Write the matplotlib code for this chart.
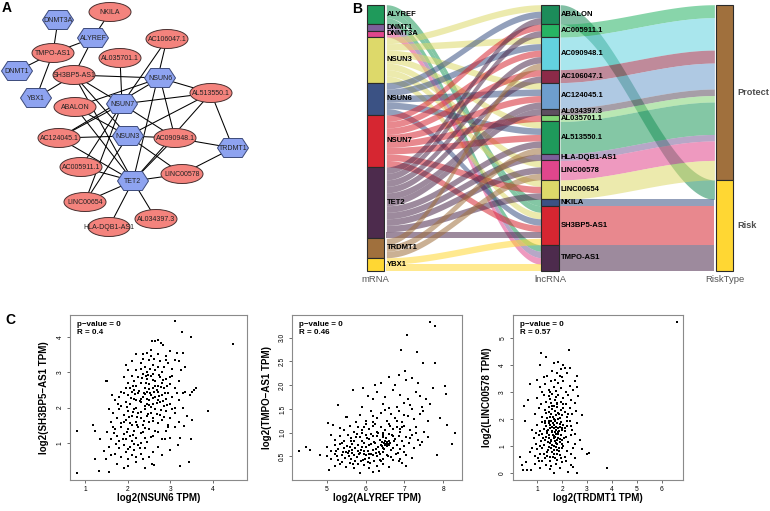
import numpy as np
import matplotlib
matplotlib.use('Agg')
import matplotlib.pyplot as plt
from matplotlib.patches import Ellipse, Polygon, Rectangle

plt.rcParams['font.family'] = ['Liberation Sans', 'DejaVu Sans']

# ---------------- data ----------------
mrna = ['ALYREF', 'DNMT1', 'DNMT3A', 'NSUN3', 'NSUN6', 'NSUN7', 'TET2', 'TRDMT1', 'YBX1']
lncrna = ['ABALON', 'AC005911.1', 'AC090948.1', 'AC106047.1', 'AC124045.1', 'AL034397.3',
          'AL035701.1', 'AL513550.1', 'HLA-DQB1-AS1', 'LINC00578', 'LINC00654', 'NKILA',
          'SH3BP5-AS1', 'TMPO-AS1']
risk_levels = ['Protect', 'Risk']
lnc_risk = ['Risk', 'Protect', 'Protect', 'Protect', 'Protect', 'Protect', 'Protect',
            'Protect', 'Protect', 'Protect', 'Protect', 'Risk', 'Risk', 'Risk']

pairs = {
    'ALYREF': ['NKILA', 'SH3BP5-AS1', 'TMPO-AS1'],
    'DNMT1': ['TMPO-AS1'],
    'DNMT3A': ['TMPO-AS1'],
    'NSUN3': ['ABALON', 'AC090948.1', 'AC124045.1', 'AL513550.1', 'LINC00578', 'LINC00654', 'SH3BP5-AS1'],
    'NSUN6': ['ABALON', 'AC090948.1', 'AC124045.1', 'AL513550.1', 'SH3BP5-AS1'],
    'NSUN7': ['AC005911.1', 'AC090948.1', 'AC106047.1', 'AC124045.1', 'AL035701.1', 'AL513550.1',
              'LINC00654', 'SH3BP5-AS1'],
    'TET2': ['ABALON', 'AC005911.1', 'AC090948.1', 'AC106047.1', 'AC124045.1', 'AL034397.3',
             'AL513550.1', 'HLA-DQB1-AS1', 'LINC00578', 'LINC00654', 'SH3BP5-AS1'],
    'TRDMT1': ['AC090948.1', 'AL513550.1', 'LINC00578'],
    'YBX1': ['SH3BP5-AS1', 'TMPO-AS1'],
}

mrna_colors = ['#1F9A5B', '#7D5F9A', '#E0468C', '#DDD96A', '#3B5284', '#D62631', '#4D2B4D', '#A0703D', '#FFD733']
lnc_colors = ['#1C8C5A', '#27B464', '#63D2DF', '#8C2A48', '#6E9ECD', '#5E4F60', '#82D475',
              '#1F9A5B', '#7D5F9A', '#E0468C', '#DDD96A', '#3B5284', '#D62631', '#4D2B4D']
risk_colors = ['#A0703D', '#FFD733']

# network layout (pixel positions of nodes in panel A)
layout_A = {
    'NKILA': (110, 12), 'DNMT3A': (58, 20), 'ALYREF': (93, 38), 'AC106047.1': (167, 39),
    'TMPO-AS1': (53, 53), 'AL035701.1': (120, 58), 'DNMT1': (17, 71), 'SH3BP5-AS1': (74, 75),
    'NSUN6': (160, 78), 'AL513550.1': (211, 93), 'YBX1': (36, 98), 'ABALON': (75, 107),
    'NSUN7': (122, 104), 'AC124045.1': (59, 138), 'NSUN3': (128, 136), 'AC090948.1': (175, 138),
    'TRDMT1': (233, 148), 'AC005911.1': (81, 167), 'TET2': (133, 181), 'LINC00578': (182, 174),
    'LINC00654': (85, 202), 'AL034397.3': (156, 219), 'HLA-DQB1-AS1': (109, 227),
}

# scatter data
s1_x = [0.80, 3.11, 3.27, 3.48, 2.57, 2.72, 2.65, 4.47,
        2.45, 2.82, 3.0, 2.35, 2.55, 2.9, 3.3, 2.2, 2.7, 3.1, 3.2,
        1.95, 2.1, 2.3, 2.4, 2.5, 2.6, 2.75, 2.85, 2.95, 3.05, 2.2, 2.45, 2.65, 2.8, 3.25, 2.0, 2.55, 2.35, 2.9, 3.35,
        1.5, 1.9, 2.0, 2.1, 2.2, 2.25, 2.3, 2.4, 2.45, 2.5, 2.55, 2.6, 2.65, 2.7, 2.75, 2.8, 2.85, 2.9, 3.0, 3.05,
        3.1, 3.2, 2.15, 1.95, 2.35, 3.5, 3.55, 3.6, 3.45, 3.3, 2.5, 2.6,
        1.7, 1.8, 1.85, 1.9, 1.95, 2.0, 2.05, 2.1, 2.15, 2.2, 2.25, 2.3, 2.35, 2.4, 2.45, 2.5, 2.55, 2.6, 2.65,
        2.7, 2.75, 2.8, 2.85, 2.9, 2.95, 3.0, 3.05, 3.1, 3.2, 2.3, 2.4, 2.45, 2.55, 2.7, 2.2, 3.3, 3.35,
        1.6, 1.65, 1.75, 1.8, 1.85, 1.9, 1.95, 2.0, 2.05, 2.1, 2.15, 2.2, 2.25, 2.3, 2.35, 2.4, 2.45, 2.5, 2.55,
        2.6, 2.65, 2.7, 2.75, 2.8, 2.9, 3.0, 3.1, 3.2, 3.88, 3.4, 3.5, 3.33, 1.55, 2.1, 2.95,
        1.19, 1.23, 1.35, 1.5, 1.6, 1.7, 1.75, 1.8, 1.85, 1.9, 1.95, 2.0, 2.05, 2.1, 2.15, 2.2, 2.25, 2.3, 2.35,
        2.4, 2.5, 2.6, 2.7, 2.8, 2.9, 3.0, 3.23, 3.49, 3.1, 2.45, 1.65,
        1.23, 1.49, 1.45, 1.55, 1.7, 1.8, 1.85, 1.9, 1.95, 2.0, 2.05, 2.1, 2.15, 2.2, 2.25, 2.3, 2.4, 2.5, 2.6,
        2.7, 2.8, 3.0, 3.43, 1.6, 2.35,
        1.32, 1.56, 1.75, 2.0, 2.2, 2.57, 2.62, 3.23, 1.9, 2.4, 0.80, 1.49,
        2.12, 2.27, 2.33, 2.42, 2.48, 2.52, 2.58, 2.63, 2.68, 2.73, 2.78, 2.83, 2.88, 2.93, 2.98, 2.18, 2.28,
        2.38, 2.44, 2.5, 2.58, 2.62, 2.68, 2.74, 2.82, 2.92, 2.08, 1.98, 2.12, 2.22, 2.32, 2.38, 2.48, 2.58,
        2.68, 2.78, 2.85, 1.92, 2.02, 2.22, 2.3, 2.4, 2.55, 2.65, 2.12, 1.98, 1.88, 2.0, 2.15, 2.28, 1.72,
        2.42, 2.52, 2.62, 2.72, 2.32, 2.15, 2.05, 1.85, 1.78, 3.15, 3.05, 2.95, 3.15, 2.78, 1.62, 1.68, 2.88, 3.18]
s1_y = [0.15, 4.43, 4.12, 3.99, 3.89, 3.9, 3.88, 3.8,
        3.55, 3.75, 3.6, 3.5, 3.62, 3.45, 3.55, 3.52, 3.5, 3.35, 3.3,
        3.2, 3.3, 3.25, 3.15, 3.35, 3.2, 3.3, 3.15, 3.25, 3.1, 3.05, 3.0, 3.05, 3.0, 3.05, 3.05, 3.45, 3.38, 3.35, 3.15,
        2.75, 2.85, 2.7, 2.9, 2.6, 2.85, 2.7, 2.55, 2.8, 2.65, 2.9, 2.55, 2.75, 2.6, 2.85, 2.7, 2.55, 2.8, 2.65, 2.9,
        2.55, 2.75, 2.5, 2.55, 2.95, 2.45, 2.5, 2.55, 2.35, 2.4, 2.52, 2.95,
        2.2, 2.3, 2.05, 2.4, 2.15, 2.35, 2.1, 2.45, 2.25, 2.0, 2.4, 2.15, 2.3, 2.05, 2.45, 2.2, 2.35, 2.1, 2.3,
        2.45, 2.15, 2.35, 2.05, 2.25, 2.4, 2.1, 2.3, 2.0, 2.2, 2.25, 2.38, 2.1, 2.02, 2.2, 2.2, 2.0, 2.45,
        1.6, 1.85, 1.7, 1.95, 1.55, 1.8, 1.65, 1.9, 1.55, 1.75, 1.95, 1.6, 1.85, 1.7, 1.5, 1.95, 1.75, 1.6, 1.85,
        1.7, 1.95, 1.55, 1.8, 1.65, 1.9, 1.7, 1.85, 1.6, 1.89, 1.75, 1.65, 1.49, 1.95, 1.5, 1.52,
        1.52, 1.35, 1.12, 1.3, 1.1, 1.4, 1.2, 1.05, 1.45, 1.25, 1.1, 1.4, 1.2, 1.05, 1.35, 1.15, 1.45, 1.0, 1.3,
        1.15, 1.4, 1.2, 1.3, 1.1, 1.35, 1.15, 1.15, 1.1, 1.45, 1.02, 1.45,
        0.56, 0.55, 0.77, 0.9, 0.7, 0.85, 0.6, 0.95, 0.75, 0.55, 0.9, 0.65, 0.8, 0.6, 0.95, 0.7, 0.85, 0.6, 0.75,
        0.9, 0.65, 0.8, 0.47, 0.65, 0.55,
        0.2, 0.17, 0.4, 0.35, 0.45, 0.4, 0.38, 0.34, 0.3, 0.3, 1.35, 2.76,
        2.62, 2.48, 2.82, 2.68, 2.92, 2.42, 2.78, 2.62, 2.5, 2.92, 2.58, 2.78, 2.42, 2.62, 2.85, 2.38, 2.18,
        2.42, 2.25, 2.08, 2.28, 2.44, 2.12, 2.32, 2.18, 2.08, 2.28, 2.02, 1.88, 1.72, 1.88, 1.62, 1.82, 1.62,
        1.82, 1.92, 1.72, 1.58, 1.72, 1.52, 1.28, 1.42, 1.18, 1.35, 1.22, 1.32, 1.12, 0.82, 0.98, 0.85, 0.98,
        2.9, 3.1, 3.38, 3.15, 3.1, 2.75, 2.55, 2.45, 2.1, 2.4, 1.95, 1.45, 3.55, 3.82, 2.35, 1.28, 1.1, 0.95]

s2_x = [7.66, 7.79, 7.06, 6.92, 7.32,
        7.48, 7.8, 7.02, 6.61, 6.24, 7.2, 6.85, 7.05, 6.4, 6.75, 7.35, 8.05,
        5.28, 5.67, 5.94, 7.74, 8.07, 7.57, 7.46, 6.3, 6.5, 6.7, 6.9, 7.1, 7.3, 6.45, 6.8, 7.0, 6.2, 6.6, 5.9,
        7.2, 7.65, 6.05, 7.4,
        5.5, 5.52, 5.85, 6.0, 6.15, 6.3, 6.4, 6.55, 6.65, 6.75, 6.85, 6.95, 7.1, 7.25, 7.49, 7.92, 7.4, 5.75,
        6.2, 6.5, 7.6,
        5.03, 5.15, 5.45, 5.6, 5.7, 5.8, 5.9, 6.0, 6.1, 6.2, 6.3, 6.4, 6.5, 6.6, 6.7, 6.8, 6.9, 7.0, 7.15, 7.3,
        7.5, 8.09, 8.31, 5.35, 6.45, 6.25,
        5.2, 5.35, 5.45, 5.55, 5.62, 5.7, 5.78, 5.85, 5.92, 6.0, 6.08, 6.15, 6.22, 6.3, 6.38, 6.45, 6.52, 6.6,
        6.68, 6.75, 6.85, 6.95, 7.05, 7.2, 7.35, 7.6, 5.1, 6.42, 6.5, 6.55,
        4.27, 4.46, 4.56, 5.0, 5.1, 5.2, 5.3, 5.38, 5.45, 5.52, 5.58, 5.65, 5.72, 5.8, 5.87, 5.95, 6.02, 6.1,
        6.18, 6.25, 6.32, 6.4, 6.47, 6.55, 6.62, 6.7, 6.8, 6.9, 7.0, 7.12, 7.25, 7.4, 8.23, 5.6, 6.35, 5.5,
        4.83, 5.0, 5.12, 5.22, 5.3, 5.4, 5.48, 5.55, 5.62, 5.7, 5.78, 5.85, 5.93, 6.0, 6.08, 6.15, 6.22, 6.3,
        6.38, 6.46, 6.55, 6.65, 6.78, 6.9, 7.05, 7.2, 7.83, 5.65, 5.95,
        5.05, 5.2, 5.35, 5.5, 5.6, 5.7, 5.86, 5.95, 6.05, 6.2, 6.3, 6.45, 6.6, 6.95, 7.05, 5.8, 6.1,
        5.58, 5.66, 5.74, 5.82, 5.9, 5.98, 6.06, 6.14, 6.2, 6.28, 6.36, 6.44, 6.5, 6.58, 6.66, 6.74, 6.84, 5.42,
        5.34, 5.26, 5.62, 5.76, 5.9, 6.04, 6.18, 6.32, 6.46, 6.6, 6.72, 6.88, 6.48, 6.52, 6.57, 6.6, 6.42, 6.46,
        5.68, 5.88, 6.12, 6.4, 6.7, 5.96, 6.1, 6.26, 5.8, 6.64, 6.8, 7.0, 7.15, 6.95, 7.3, 6.2, 5.95, 7.45, 7.0,
        7.15, 5.4, 5.25, 6.85, 6.35]
s2_y = [3.33, 3.25, 3.05, 2.75, 2.69,
        2.47, 2.47, 2.31, 2.17, 2.0, 2.15, 2.22, 2.1, 2.05, 2.0, 2.05, 1.99,
        1.59, 1.89, 1.94, 1.95, 1.82, 1.72, 1.55, 1.85, 1.75, 1.9, 1.8, 1.7, 1.85, 1.6, 1.55, 1.62, 1.7, 1.52, 1.55,
        1.5, 1.6, 1.78, 1.78,
        1.34, 1.32, 1.38, 1.25, 1.45, 1.3, 1.42, 1.25, 1.4, 1.3, 1.45, 1.22, 1.35, 1.28, 1.45, 1.31, 1.4, 1.22,
        1.22, 1.48, 1.25,
        1.21, 1.17, 1.05, 1.15, 1.02, 1.12, 1.05, 1.18, 1.08, 1.15, 1.02, 1.12, 1.05, 1.18, 1.08, 1.12, 1.02, 1.15,
        1.05, 1.12, 1.02, 1.17, 1.0, 1.1, 1.0, 1.19,
        0.85, 0.92, 0.82, 0.95, 0.88, 0.82, 0.97, 0.9, 0.83, 0.95, 0.86, 0.98, 0.81, 0.92, 0.85, 0.95, 0.88, 0.82,
        0.96, 0.87, 0.93, 0.83, 0.9, 0.95, 0.85, 0.9, 0.95, 0.8, 0.82, 0.8,
        0.61, 0.70, 0.64, 0.7, 0.62, 0.75, 0.66, 0.78, 0.68, 0.72, 0.62, 0.77, 0.67, 0.73, 0.63, 0.78, 0.69, 0.74,
        0.64, 0.79, 0.7, 0.75, 0.65, 0.72, 0.78, 0.68, 0.75, 0.65, 0.72, 0.78, 0.68, 0.74, 0.77, 0.7, 0.6, 0.6,
        0.52, 0.5, 0.45, 0.55, 0.42, 0.52, 0.47, 0.57, 0.44, 0.53, 0.48, 0.58, 0.43, 0.52, 0.46, 0.56, 0.41, 0.5,
        0.55, 0.45, 0.53, 0.48, 0.56, 0.45, 0.52, 0.47, 0.52, 0.58, 0.55,
        0.21, 0.3, 0.35, 0.28, 0.36, 0.25, 0.15, 0.32, 0.38, 0.17, 0.3, 0.35, 0.27, 0.37, 0.3, 0.33, 0.25,
        0.5, 0.63, 0.41, 0.56, 0.7, 0.45, 0.61, 0.77, 0.52, 0.66, 0.43, 0.6, 0.74, 0.51, 0.63, 0.82, 0.58, 0.6,
        0.76, 0.5, 0.83, 0.9, 1.0, 0.88, 0.93, 1.0, 0.9, 0.98, 0.92, 1.08, 0.78, 0.76, 0.77, 0.74, 0.72, 0.68,
        0.35, 0.4, 0.36, 0.4, 0.42, 0.62, 0.56, 0.58, 0.62, 1.15, 1.25, 1.38, 1.58, 1.12, 1.0, 1.35, 1.12, 0.8,
        0.6, 0.88, 0.38, 0.62, 0.4, 0.2]

s3_x = [2.27, 1.15, 1.1, 1.65, 1.85,
        2.1, 2.3, 2.58, 1.6, 1.8, 2.0, 1.4, 2.2, 1.25, 1.95,
        0.7, 1.3, 1.45, 1.55, 1.65, 1.75, 1.85, 1.95, 2.05, 2.15, 2.3, 2.45, 1.2, 2.5, 1.1, 1.0,
        0.62, 1.0, 1.15, 1.25, 1.35, 1.45, 1.55, 1.6, 1.7, 1.8, 1.85, 1.95, 2.05, 2.15, 2.25, 2.35, 2.5, 2.65,
        1.5, 1.75,
        0.47, 0.9, 1.05, 1.2, 1.3, 1.4, 1.45, 1.55, 1.6, 1.65, 1.7, 1.75, 1.8, 1.85, 1.9, 1.95, 2.0, 2.05, 2.1,
        2.2, 2.3, 2.4, 2.8, 2.55, 1.35, 1.5, 1.68, 1.88,
        0.8, 1.0, 1.1, 1.2, 1.25, 1.3, 1.35, 1.4, 1.45, 1.5, 1.55, 1.6, 1.65, 1.7, 1.75, 1.8, 1.85, 1.9, 1.95,
        2.0, 2.05, 2.1, 2.2, 2.3, 2.4, 2.6, 1.58, 1.72, 1.82, 1.62,
        0.85, 0.95, 1.05, 1.15, 1.2, 1.28, 1.35, 1.42, 1.48, 1.55, 1.6, 1.65, 1.7, 1.75, 1.8, 1.85, 1.9, 1.95,
        2.0, 2.05, 2.15, 2.25, 2.35, 2.5, 2.7, 1.52, 1.68, 1.78,
        0.3, 0.7, 0.9, 1.0, 1.1, 1.2, 1.3, 1.4, 1.5, 1.55, 1.65, 1.7, 1.8, 1.9, 2.0, 2.1, 2.2, 2.35, 2.5, 2.8,
        3.09, 3.0, 1.45, 1.75,
        0.4, 0.42, 0.6, 0.75, 0.55, 0.9, 1.1, 1.2, 1.35, 1.5, 1.65, 1.75, 1.9, 2.0, 2.25, 2.35, 2.58, 2.45, 3.79,
        1.55, 1.05, 6.6,
        1.42, 1.48, 1.52, 1.58, 1.62, 1.66, 1.72, 1.76, 1.82, 1.86, 1.92, 1.98, 1.62, 1.72, 1.82, 1.92, 1.56,
        1.66, 1.76, 1.86, 1.46, 1.38, 1.32, 1.44, 1.58, 1.68, 1.78, 1.88, 1.98, 2.08, 2.12, 2.18, 2.24, 2.02,
        1.78, 1.58, 1.46, 1.3, 1.22, 1.12, 1.38, 1.5, 1.62, 1.8, 1.95, 2.15, 1.25, 1.02, 0.8, 0.95, 2.35, 2.5,
        2.45, 1.7, 1.5, 1.9, 2.6, 1.35, 2.05, 0.5]
s3_y = [4.58, 4.46, 4.0, 4.1, 4.13,
        3.9, 3.9, 3.6, 3.8, 3.7, 3.55, 3.6, 3.7, 3.55, 3.85,
        3.32, 3.3, 3.1, 3.4, 3.2, 3.05, 3.35, 3.15, 3.4, 3.0, 3.25, 3.1, 3.0, 3.4, 3.2, 3.45,
        2.7, 2.8, 2.55, 2.9, 2.65, 2.85, 2.6, 2.95, 2.7, 2.55, 2.9, 2.65, 2.8, 2.55, 2.9, 2.7, 2.6, 2.85,
        2.75, 2.82,
        2.48, 2.2, 2.4, 2.1, 2.35, 2.05, 2.45, 2.2, 2.38, 2.02, 2.3, 2.15, 2.45, 2.25, 2.05, 2.35, 2.15, 2.42, 2.28,
        2.08, 2.4, 2.2, 2.15, 2.3, 2.25, 2.1, 2.5, 2.18,
        1.6, 1.8, 1.55, 1.9, 1.65, 1.95, 1.75, 1.55, 1.85, 1.68, 1.95, 1.58, 1.78, 1.92, 1.62, 1.85, 1.52, 1.72, 1.9,
        1.6, 1.8, 1.55, 1.75, 1.95, 1.62, 1.85, 1.7, 1.52, 1.68, 1.88,
        1.3, 1.1, 1.4, 1.2, 1.45, 1.05, 1.35, 1.15, 1.42, 1.25, 1.05, 1.38, 1.18, 1.45, 1.08, 1.3, 1.15, 1.42,
        1.22, 1.02, 1.35, 1.15, 1.4, 1.1, 1.25, 1.12, 1.3, 1.25,
        0.6, 0.8, 0.65, 0.9, 0.7, 0.95, 0.55, 0.8, 0.62, 0.92, 0.72, 0.55, 0.85, 0.68, 0.95, 0.6, 0.82, 0.7, 0.55, 0.9,
        0.75, 0.72, 0.98, 0.98,
        0.3, 0.13, 0.12, 0.13, 0.4, 0.35, 0.2, 0.45, 0.3, 0.15, 0.02, 0.35, 0.2, 0.42, 0.05, 0.3, 0.0, 0.25, 0.2,
        0.28, 0.45, 5.6,
        1.62, 1.95, 1.8, 1.52, 2.1, 1.66, 1.98, 1.72, 2.02, 1.58, 1.82, 1.68, 1.42, 1.35, 1.45, 1.28, 1.18,
        1.02, 1.12, 0.95, 1.3, 1.48, 1.22, 0.85, 0.78, 0.88, 0.7, 0.82, 1.1, 1.32, 1.68, 1.92, 2.2, 2.55,
        2.62, 2.48, 2.28, 1.85, 1.32, 1.02, 0.65, 0.45, 0.6, 0.5, 0.55, 0.45, 0.72, 0.58, 0.95, 1.5, 1.75, 1.45,
        0.95, 3.45, 3.0, 3.6, 3.2, 4.3, 4.0, 1.95]

scatter_specs = [
    dict(x=s1_x, y=s1_y, xlab='log2(NSUN6 TPM)', ylab='log2(SH3BP5\u2212AS1 TPM)', r='R = 0.4',
         xticks=[1, 2, 3, 4], yticks=[1, 2, 3, 4], yfmt='{:.0f}'),
    dict(x=s2_x, y=s2_y, xlab='log2(ALYREF TPM)', ylab='log2(TMPO\u2212AS1 TPM)', r='R = 0.46',
         xticks=[5, 6, 7, 8], yticks=[0.5, 1.0, 1.5, 2.0, 2.5, 3.0], yfmt='{:.1f}'),
    dict(x=s3_x, y=s3_y, xlab='log2(TRDMT1 TPM)', ylab='log2(LINC00578 TPM)', r='R = 0.57',
         xticks=[1, 2, 3, 4, 5, 6], yticks=[0, 1, 2, 3, 4, 5], yfmt='{:.0f}'),
]

# ---------------- figure ----------------
W, H = 770, 511
fig = plt.figure(figsize=(W / 100, H / 100), dpi=100)


def px_axes(x0, y0, x1, y1):
    return fig.add_axes([x0 / W, 1 - y1 / H, (x1 - x0) / W, (y1 - y0) / H])


# ---- Panel A: network ----
axA = px_axes(0, 0, 330, 300)
axA.set_xlim(0, 330)
axA.set_ylim(300, 0)
axA.axis('off')
for m, ls in pairs.items():
    for l in ls:
        (xa, ya), (xb, yb) = layout_A[m], layout_A[l]
        axA.plot([xa, xb], [ya, yb], color='black', lw=0.75, zorder=1)
for name, (x, y) in layout_A.items():
    if name in mrna:
        w, h = 31, 19
        verts = [(x - w / 2, y), (x - 0.3 * w, y - h / 2), (x + 0.3 * w, y - h / 2),
                 (x + w / 2, y), (x + 0.3 * w, y + h / 2), (x - 0.3 * w, y + h / 2)]
        axA.add_patch(Polygon(verts, closed=True, fc='#8EA3F0', ec='#3C4A7A', lw=0.7, zorder=2))
    else:
        axA.add_patch(Ellipse((x, y), 42, 19, fc='#F4837D', ec='#4A3030', lw=0.7, zorder=2))
    axA.text(x, y, name, ha='center', va='center', fontsize=5, color='#222222', zorder=3)

# ---- Panel B: alluvial ----
axB = px_axes(330, 0, 770, 292)
ux = 174.5
x_m_px = 375.5
uy = 266.0 / 41
top_px = 4.7
axB.set_xlim((330 - x_m_px) / ux + 1, (770 - x_m_px) / ux + 1)
axB.set_ylim((292 - top_px) / uy, (0 - top_px) / uy)
axB.axis('off')
hw = 0.05

m_count = [len(pairs[m]) for m in mrna]
l_count = [sum(l in pairs[m] for m in mrna) for l in lncrna]
m_start = np.concatenate([[0], np.cumsum(m_count)[:-1]])
l_start = np.concatenate([[0], np.cumsum(l_count)[:-1]])
r_count = [sum(c for c, r in zip(l_count, lnc_risk) if r == lev) for lev in risk_levels]
r_start = np.concatenate([[0], np.cumsum(r_count)[:-1]])


def flow(xa, xb, ya, yb, h, color, alpha=0.55):
    t = np.linspace(0, 1, 80)
    s = t * t * (3 - 2 * t)
    xs = xa + (xb - xa) * t
    top = ya + (yb - ya) * s
    axB.fill_between(xs, top, top + h, color=color, alpha=alpha, lw=0, zorder=1)


# segment 1: mRNA -> lncRNA
in_pos = {}
for li, l in enumerate(lncrna):
    k = 0
    for mi, m in enumerate(mrna):
        if l in pairs[m]:
            in_pos[(m, l)] = l_start[li] + k
            k += 1
for mi, m in enumerate(mrna):
    ordered = sorted(pairs[m], key=lambda l: lncrna.index(l))
    for k, l in enumerate(ordered):
        flow(1 + hw + 0.012, 2 - hw, m_start[mi] + k, in_pos[(m, l)], 1, mrna_colors[mi])

# segment 2: lncRNA -> RiskType
r_fill = {lev: r_start[i] for i, lev in enumerate(risk_levels)}
for li, l in enumerate(lncrna):
    lev = lnc_risk[li]
    flow(2 + hw + 0.008, 3 - hw - 0.008, l_start[li], r_fill[lev], l_count[li], lnc_colors[li])
    r_fill[lev] += l_count[li]


def strata(xc, starts, counts, colors):
    for s, c, col in zip(starts, counts, colors):
        axB.add_patch(Rectangle((xc - hw, s), 2 * hw, c, fc=col, ec='#2B2B2B', lw=0.8, zorder=3))


strata(1, m_start, m_count, mrna_colors)
strata(2, l_start, l_count, lnc_colors)
strata(3, r_start, r_count, risk_colors)
for s, c, nm in zip(m_start, m_count, mrna):
    axB.text(1 + hw + 0.015, s + c / 2, nm, fontsize=5.5, fontweight='bold', va='center', ha='left', zorder=4)
for s, c, nm in zip(l_start, l_count, lncrna):
    axB.text(2 + hw + 0.013, s + c / 2, nm, fontsize=5.5, fontweight='bold', va='center', ha='left', zorder=4)
for s, c, nm in zip(r_start, r_count, risk_levels):
    axB.text(3 + hw + 0.023, s + c / 2, nm, fontsize=6.6, fontweight='bold', color='#4D4D4D',
             va='center', ha='left', zorder=4)
for xi, nm in zip([1, 2, 3], ['mRNA', 'lncRNA', 'RiskType']):
    axB.text(xi, (279 - top_px) / uy, nm, fontsize=6.8, color='#555555', ha='center', va='center')

# ---- Panel C: scatter plots ----
rects = [(70, 315, 246.5, 479.5), (292.3, 315, 461.7, 479.5), (512.5, 315, 683.3, 479.5)]
xlims = [(0.64, 4.79), (4.11, 8.48), (0.0, 6.87)]
ylims = [(-0.03, 4.61), (0.013, 3.48), (-0.23, 5.86)]
for spec, rect, xl, yl in zip(scatter_specs, rects, xlims, ylims):
    ax = px_axes(*rect)
    ax.scatter(spec['x'], spec['y'], s=0.9, c='black', marker='s', linewidths=0)
    ax.set_xlim(*xl)
    ax.set_ylim(*yl)
    for sp in ax.spines.values():
        sp.set_color('#8A8A8A')
        sp.set_linewidth(0.8)
    ax.set_xticks(spec['xticks'])
    ax.set_xticklabels([str(t) for t in spec['xticks']])
    ax.set_yticks(spec['yticks'])
    ax.set_yticklabels([spec['yfmt'].format(t) for t in spec['yticks']], rotation=90, va='center')
    ax.tick_params(length=2.5, width=0.6, color='#555555', labelsize=4.8, pad=2)
    ax.text(0.5, -0.11, spec['xlab'], transform=ax.transAxes, ha='center', va='center',
            fontsize=7, fontweight='bold')
    ax.text(-0.15, 0.5, spec['ylab'], transform=ax.transAxes, ha='center', va='center',
            fontsize=7, fontweight='bold', rotation=90)
    ax.text(0.042, 0.94, 'p\u2212value = 0', transform=ax.transAxes, ha='left', va='center',
            fontsize=5.8, fontweight='bold')
    ax.text(0.042, 0.895, spec['r'], transform=ax.transAxes, ha='left', va='center',
            fontsize=5.8, fontweight='bold')

# panel letters
fig.text(2 / W, 1 - 8 / H, 'A', fontsize=10, fontweight='bold', ha='left', va='center')
fig.text(352 / W, 1 - 9 / H, 'B', fontsize=10, fontweight='bold', ha='left', va='center')
fig.text(5 / W, 1 - 320 / H, 'C', fontsize=10, fontweight='bold', ha='left', va='center')

fig.savefig('out.png', dpi=100)
